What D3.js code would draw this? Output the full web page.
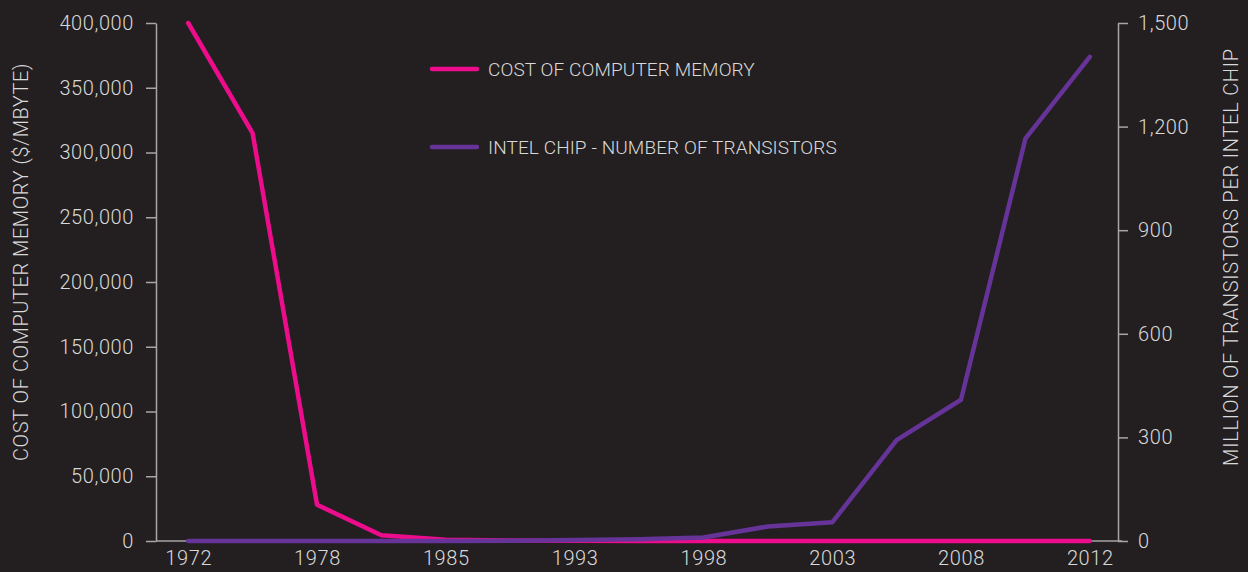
<!DOCTYPE html>
<html>
<head>
<meta charset="utf-8">
<script src="https://cdn.jsdelivr.net/npm/d3@7"></script>
<style>
    html, body { margin: 0; padding: 0; background: #231f20; }
    #chart { width: 1248px; height: 572px; }
    .axis text { font-family: Roboto, sans-serif; font-weight: 300; font-size: 20px; letter-spacing: 0.6px; fill: #d9d9d9; }
    .axis path, .axis line { stroke: #a6a6a6; stroke-width: 1.5; }
    .label { font-family: Roboto, sans-serif; font-weight: 300; font-size: 20px; fill: #d9d9d9; }
    .legend text { font-family: Roboto, sans-serif; font-weight: 300; font-size: 19px; letter-spacing: 0.1px; fill: #d9d9d9; }
</style>
</head>
<body>
<div id="chart"></div>
<script>
// data (one point every half label step)
var years = ["1972", "1975", "1978", "1981", "1985", "1989", "1993", "1995",
             "1998", "2000", "2003", "2006", "2008", "2010", "2012"];
var tickYears = ["1972", "1978", "1985", "1993", "1998", "2003", "2008", "2012"];
var memoryCost = [400000, 315000, 28000, 4500, 1000, 400, 100, 50, 10, 5, 2, 1, 0.5, 0.2, 0.1];
var transistors = [0, 0, 0, 0, 0.3, 1, 3, 5, 10, 42, 54, 292, 409, 1165, 1402];
var leftTicks = [0, 50000, 100000, 150000, 200000, 250000, 300000, 350000, 400000];
var rightTicks = [0, 300, 600, 900, 1200, 1500];

var seriesNames = ["COST OF COMPUTER MEMORY", "INTEL CHIP - NUMBER OF TRANSISTORS"];
var seriesColors = ["#ec0c8c", "#663399"];

function draw() {
    var width = 1248, height = 572;
    var margin = { top: 23, right: 126, bottom: 31, left: 156 };
    var innerW = width - margin.left - margin.right;
    var innerH = height - margin.top - margin.bottom;

    var svg = d3.select("#chart").append("svg")
        .attr("width", width)
        .attr("height", height);

    var g = svg.append("g")
        .attr("transform", "translate(" + margin.left + "," + margin.top + ")");

    // x: categories, points centered in bands
    var xScale = d3.scalePoint()
        .domain(years)
        .range([0, innerW])
        .padding(0.5);

    var yLeft = d3.scaleLinear().domain([0, 400000]).range([innerH, 0]);
    var yRight = d3.scaleLinear().domain([0, 1500]).range([innerH, 0]);

    // baseline between the two axes
    g.append("line")
        .attr("x1", 0).attr("x2", innerW)
        .attr("y1", innerH).attr("y2", innerH)
        .style("stroke", "#a6a6a6")
        .style("stroke-width", 1.5);

    // x labels
    var xAxis = d3.axisBottom(xScale)
        .tickValues(tickYears)
        .tickSize(0)
        .tickPadding(10);
    var xg = g.append("g")
        .attr("class", "x axis")
        .attr("transform", "translate(0," + innerH + ")")
        .call(xAxis);
    xg.select(".domain").remove();

    // left axis
    g.append("g")
        .attr("class", "y axis")
        .call(d3.axisLeft(yLeft)
            .tickValues(leftTicks)
            .tickFormat(d3.format(","))
            .tickSizeInner(10)
            .tickSizeOuter(0)
            .tickPadding(12));

    // right axis
    g.append("g")
        .attr("class", "y axis")
        .attr("transform", "translate(" + (innerW - 4) + ",0)")
        .call(d3.axisRight(yRight)
            .tickValues(rightTicks)
            .tickFormat(d3.format(","))
            .tickSizeInner(10)
            .tickSizeOuter(0)
            .tickPadding(10));

    // axis titles
    svg.append("text")
        .attr("class", "label")
        .attr("transform", "translate(28,262) rotate(-90)")
        .style("text-anchor", "middle")
        .style("letter-spacing", "0.55px")
        .text("COST OF COMPUTER MEMORY ($/MBYTE)");

    svg.append("text")
        .attr("class", "label")
        .attr("transform", "translate(1238,257) rotate(-90)")
        .style("text-anchor", "middle")
        .style("letter-spacing", "0.75px")
        .text("MILLION OF TRANSISTORS PER INTEL CHIP");

    // lines
    var memLine = d3.line()
        .x(function (d, i) { return xScale(years[i]); })
        .y(function (d) { return yLeft(d); });
    var chipLine = d3.line()
        .x(function (d, i) { return xScale(years[i]); })
        .y(function (d) { return yRight(d); });

    g.append("path")
        .datum(memoryCost)
        .attr("d", memLine)
        .style("fill", "none")
        .style("stroke", seriesColors[0])
        .style("stroke-width", 4.5)
        .style("stroke-linecap", "round")
        .style("stroke-linejoin", "round");

    g.append("path")
        .datum(transistors)
        .attr("d", chipLine)
        .style("fill", "none")
        .style("stroke", seriesColors[1])
        .style("stroke-width", 4.5)
        .style("stroke-linecap", "round")
        .style("stroke-linejoin", "round");

    // legend
    var legend = svg.append("g")
        .attr("class", "legend")
        .selectAll("g")
        .data(seriesNames)
        .enter()
        .append("g")
        .attr("transform", function (d, i) { return "translate(432," + (69 + i * 78) + ")"; });

    legend.append("line")
        .attr("x1", 0).attr("x2", 45)
        .style("stroke", function (d, i) { return seriesColors[i]; })
        .style("stroke-width", 4.5)
        .style("stroke-linecap", "round");

    legend.append("text")
        .attr("x", 56)
        .attr("dy", "0.35em")
        .text(function (d) { return d; });
}

draw();
</script>
</body>
</html>
